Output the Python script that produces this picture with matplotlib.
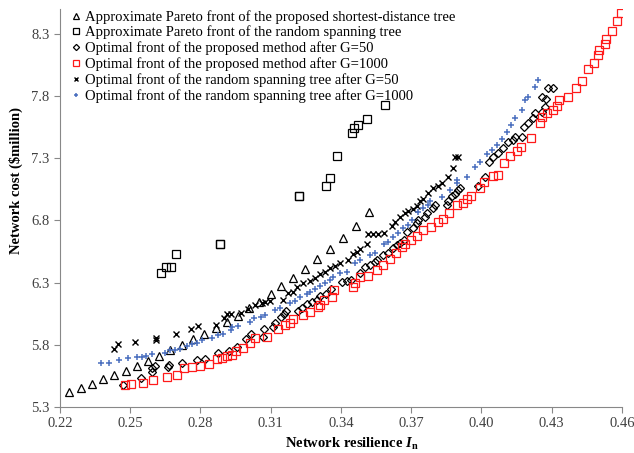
import numpy as np
import matplotlib
matplotlib.use('Agg')
import matplotlib.pyplot as plt

plt.rcParams['font.family'] = ['Liberation Serif', 'DejaVu Serif']
plt.rcParams['mathtext.fontset'] = 'custom'
plt.rcParams['mathtext.rm'] = 'Liberation Serif'
plt.rcParams['mathtext.it'] = 'Liberation Serif:italic'
plt.rcParams['mathtext.bf'] = 'Liberation Serif:bold'
plt.rcParams['mathtext.bfit'] = 'Liberation Serif:italic:bold'

# approximate Pareto front, proposed shortest-distance tree
tri_x = [0.2238, 0.2290, 0.2337, 0.2384, 0.2431, 0.2482, 0.2529, 0.2576, 0.2623,
         0.2670, 0.2721, 0.2768, 0.2815, 0.2866, 0.2913, 0.2960, 0.3007, 0.3050,
         0.3101, 0.3144, 0.3195, 0.3246, 0.3297, 0.3353, 0.3408, 0.3464, 0.3519]
tri_y = [5.421, 5.453, 5.485, 5.525, 5.557, 5.590, 5.630, 5.670, 5.710,
         5.759, 5.799, 5.847, 5.887, 5.936, 5.984, 6.032, 6.096, 6.145,
         6.209, 6.273, 6.338, 6.410, 6.491, 6.571, 6.660, 6.756, 6.869]

# approximate Pareto front, random spanning tree
sq_x = [0.2631, 0.2653, 0.2674, 0.2695, 0.2883, 0.2885, 0.3220, 0.3222, 0.3336,
        0.3353, 0.3383, 0.3447, 0.3455, 0.3472, 0.3511, 0.3588]
sq_y = [6.378, 6.426, 6.426, 6.531, 6.611, 6.607, 6.997, 6.993, 7.078,
        7.142, 7.319, 7.504, 7.545, 7.569, 7.617, 7.730]

# proposed method after G=50
dia_x = [0.2469, 0.2546, 0.2593, 0.2593, 0.2606, 0.2661, 0.2665, 0.2721, 0.2785,
         0.2819, 0.2875, 0.2922, 0.2956, 0.2994, 0.3016, 0.3067, 0.3071, 0.3110,
         0.3118, 0.3144, 0.3156, 0.3165, 0.3216, 0.3233, 0.3255, 0.3276, 0.3297,
         0.3310, 0.3336, 0.3357, 0.3404, 0.3425, 0.3443, 0.3481, 0.3502, 0.3524,
         0.3545, 0.3554, 0.3579, 0.3601, 0.3622, 0.3639, 0.3652, 0.3669, 0.3682,
         0.3707, 0.3724, 0.3729, 0.3758, 0.3767, 0.3793, 0.3801, 0.3852, 0.3857,
         0.3874, 0.3887, 0.3899, 0.3908, 0.3985, 0.4015, 0.4032, 0.4049, 0.4070,
         0.4092, 0.4113, 0.4134, 0.4143, 0.4173, 0.4181, 0.4198, 0.4220, 0.4228,
         0.4258, 0.4271, 0.4258, 0.4275, 0.4284, 0.4305]
dia_y = [5.477, 5.533, 5.582, 5.614, 5.630, 5.622, 5.638, 5.654, 5.678,
         5.686, 5.734, 5.751, 5.783, 5.847, 5.887, 5.863, 5.928, 5.944,
         5.976, 6.024, 6.048, 6.072, 6.072, 6.096, 6.129, 6.145, 6.161,
         6.193, 6.209, 6.249, 6.306, 6.314, 6.322, 6.378, 6.426, 6.442,
         6.467, 6.483, 6.523, 6.539, 6.579, 6.603, 6.619, 6.643, 6.708,
         6.740, 6.780, 6.804, 6.829, 6.861, 6.901, 6.925, 6.925, 6.957,
         6.997, 7.014, 7.046, 7.062, 7.078, 7.150, 7.271, 7.311, 7.343,
         7.384, 7.432, 7.448, 7.472, 7.472, 7.553, 7.585, 7.625, 7.665,
         7.673, 7.714, 7.794, 7.778, 7.866, 7.866]

# proposed method after G=1000
red_x = [0.2478, 0.2503, 0.2554, 0.2597, 0.2657, 0.2700, 0.2729, 0.2764, 0.2798,
         0.2836, 0.2870, 0.2892, 0.2913, 0.2934, 0.2951, 0.2981, 0.3011, 0.3033,
         0.3084, 0.3131, 0.3161, 0.3182, 0.3195, 0.3238, 0.3267, 0.3302, 0.3310,
         0.3327, 0.3361, 0.3370, 0.3451, 0.3460, 0.3481, 0.3515, 0.3554, 0.3579,
         0.3609, 0.3635, 0.3660, 0.3673, 0.3699, 0.3724, 0.3750, 0.3784, 0.3814,
         0.3835, 0.3861, 0.3895, 0.3921, 0.3938, 0.3955, 0.3993, 0.4010, 0.4049,
         0.4070, 0.4096, 0.4121, 0.4151, 0.4168, 0.4211, 0.4250, 0.4258, 0.4279,
         0.4305, 0.4322, 0.4331, 0.4369, 0.4403, 0.4429, 0.4454, 0.4480, 0.4497,
         0.4501, 0.4527, 0.4531, 0.4557, 0.4578, 0.4595]
red_y = [5.477, 5.485, 5.493, 5.517, 5.541, 5.557, 5.614, 5.622, 5.630,
         5.646, 5.686, 5.694, 5.710, 5.718, 5.751, 5.775, 5.815, 5.855,
         5.863, 5.928, 5.960, 5.976, 6.008, 6.040, 6.064, 6.105, 6.121,
         6.161, 6.185, 6.241, 6.265, 6.298, 6.346, 6.354, 6.402, 6.442,
         6.491, 6.539, 6.587, 6.611, 6.643, 6.676, 6.724, 6.748, 6.788,
         6.812, 6.861, 6.925, 6.941, 6.973, 6.997, 7.062, 7.110, 7.158,
         7.166, 7.263, 7.319, 7.359, 7.392, 7.464, 7.585, 7.633, 7.665,
         7.689, 7.722, 7.770, 7.794, 7.866, 7.923, 8.019, 8.067, 8.132,
         8.172, 8.220, 8.261, 8.325, 8.405, 8.470]

# random spanning tree after G=50
xm_x = [0.2431, 0.2448, 0.2520, 0.2610, 0.2612, 0.2695, 0.2759, 0.2789, 0.2866,
        0.2900, 0.2913, 0.2930, 0.2973, 0.3003, 0.3033, 0.3063, 0.3075, 0.3097,
        0.3152, 0.3174, 0.3195, 0.3212, 0.3238, 0.3267, 0.3289, 0.3310, 0.3332,
        0.3353, 0.3374, 0.3396, 0.3430, 0.3451, 0.3468, 0.3481, 0.3511, 0.3515,
        0.3536, 0.3558, 0.3583, 0.3618, 0.3630, 0.3652, 0.3673, 0.3686, 0.3707,
        0.3724, 0.3737, 0.3750, 0.3771, 0.3793, 0.3814, 0.3831, 0.3857, 0.3878,
        0.3887, 0.3899]
xm_y = [5.767, 5.807, 5.823, 5.839, 5.855, 5.887, 5.928, 5.952, 5.960,
        6.016, 6.048, 6.048, 6.056, 6.088, 6.121, 6.137, 6.145, 6.153,
        6.161, 6.217, 6.225, 6.265, 6.298, 6.314, 6.338, 6.370, 6.386,
        6.418, 6.434, 6.459, 6.483, 6.531, 6.547, 6.571, 6.611, 6.692,
        6.692, 6.692, 6.700, 6.756, 6.788, 6.829, 6.861, 6.877, 6.893,
        6.917, 6.957, 6.973, 7.022, 7.062, 7.078, 7.102, 7.150, 7.223,
        7.311, 7.311]

# random spanning tree after G=1000
pl_x = [0.2375, 0.2409, 0.2452, 0.2490, 0.2529, 0.2550, 0.2567, 0.2593, 0.2648,
        0.2670, 0.2691, 0.2712, 0.2742, 0.2764, 0.2785, 0.2806, 0.2849, 0.2875,
        0.2896, 0.2930, 0.2934, 0.2960, 0.3011, 0.3028, 0.3058, 0.3075, 0.3118,
        0.3139, 0.3182, 0.3203, 0.3225, 0.3255, 0.3267, 0.3289, 0.3310, 0.3332,
        0.3353, 0.3366, 0.3396, 0.3425, 0.3460, 0.3481, 0.3524, 0.3545, 0.3583,
        0.3601, 0.3622, 0.3643, 0.3665, 0.3686, 0.3703, 0.3729, 0.3750, 0.3771,
        0.3780, 0.3831, 0.3865, 0.3895, 0.3897, 0.3938, 0.3972, 0.3993, 0.4023,
        0.4045, 0.4066, 0.4087, 0.4109, 0.4126, 0.4143, 0.4173, 0.4186, 0.4198,
        0.4228, 0.4241]
pl_y = [5.654, 5.654, 5.678, 5.694, 5.702, 5.702, 5.710, 5.726, 5.734,
        5.759, 5.759, 5.767, 5.791, 5.807, 5.815, 5.839, 5.855, 5.879,
        5.887, 5.919, 5.944, 5.952, 5.984, 6.016, 6.024, 6.040, 6.080,
        6.096, 6.137, 6.153, 6.185, 6.209, 6.225, 6.249, 6.273, 6.298,
        6.322, 6.346, 6.378, 6.386, 6.459, 6.483, 6.523, 6.539, 6.611,
        6.627, 6.668, 6.700, 6.740, 6.764, 6.804, 6.869, 6.901, 6.925,
        6.957, 6.989, 7.046, 7.102, 7.126, 7.150, 7.231, 7.271, 7.335,
        7.367, 7.408, 7.456, 7.512, 7.568, 7.625, 7.689, 7.770, 7.794,
        7.874, 7.930]

labels = ['Approximate Pareto front of the proposed shortest-distance tree',
          'Approximate Pareto front of the random spanning tree',
          'Optimal front of the proposed method after G=50',
          'Optimal front of the proposed method after G=1000',
          'Optimal front of the random spanning tree after G=50',
          'Optimal front of the random spanning tree after G=1000']

fig = plt.figure(figsize=(6.34, 4.53), dpi=100)
ax = fig.add_axes([0.0946, 0.1015, 0.8864, 0.8785])

ax.plot(tri_x, tri_y, '^', ls='none', ms=6, mfc='none', mec='black', mew=0.9, label=labels[0])
ax.plot(sq_x, sq_y, 's', ls='none', ms=6, mfc='none', mec='black', mew=0.9, label=labels[1])
ax.plot(dia_x, dia_y, 'D', ls='none', ms=4.5, mfc='none', mec='black', mew=0.9, label=labels[2])
ax.plot(red_x, red_y, 's', ls='none', ms=5.5, mfc='none', mec='#ff1a1a', mew=0.9, label=labels[3])
ax.plot(xm_x, xm_y, 'x', ls='none', ms=4, color='black', mew=1.0, label=labels[4])
ax.plot(pl_x, pl_y, '+', ls='none', ms=5, color='#4a6fbf', mew=1.1, label=labels[5])

ax.set_xlim(0.22, 0.46)
ax.set_ylim(5.3, 8.5)
ax.set_xticks(np.arange(0.22, 0.461, 0.03))
ax.set_yticks(np.arange(5.3, 8.31, 0.5))
ax.set_xticklabels(['%.2f' % v for v in np.arange(0.22, 0.461, 0.03)], fontsize=10.5)
ax.set_yticklabels(['%.1f' % v for v in np.arange(5.3, 8.31, 0.5)], fontsize=10.5)
for s in ['top', 'right']:
    ax.spines[s].set_visible(False)
for s in ['left', 'bottom']:
    ax.spines[s].set_color('#888888')
ax.tick_params(direction='out', length=4, color='#888888', labelcolor='#404040')

ax.set_xlabel(r'Network resilience $\mathbfit{I}_{\mathbf{n}}$', fontsize=10.5, fontweight='bold')
ax.xaxis.set_label_coords(0.519, -0.073)
ax.set_ylabel('Network cost (\\$million)', fontsize=10.5, fontweight='bold')
ax.yaxis.set_label_coords(-0.066, 0.57)

ax.legend(loc='upper left', bbox_to_anchor=(0.005, 1.02), frameon=False, fontsize=10.5,
          markerscale=0.7, handlelength=0.6, handletextpad=0.3, labelspacing=0.14,
          borderaxespad=0.2)

plt.savefig('out.png', dpi=100)
